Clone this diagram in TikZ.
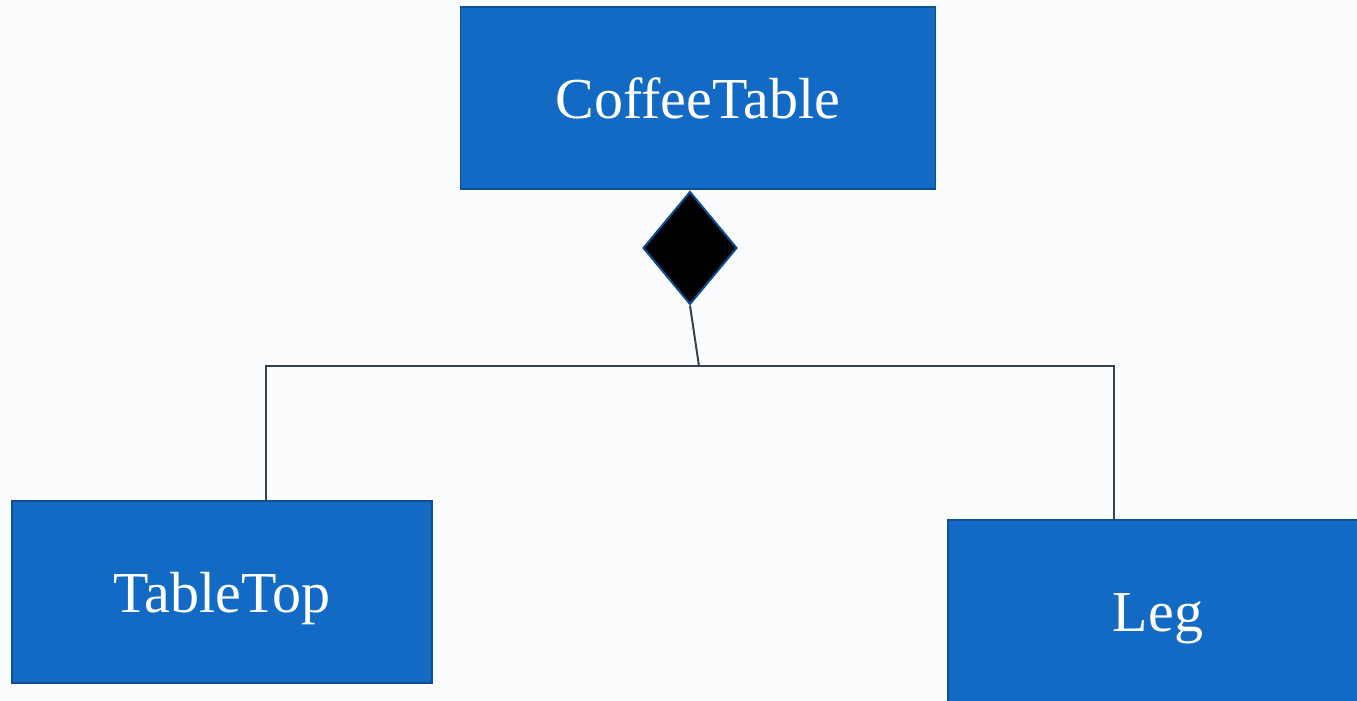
\documentclass[tikz,border=0pt]{standalone}
\usepackage{fontspec}
\setmainfont{Liberation Serif}
\usetikzlibrary{positioning,shapes.geometric}
\definecolor{colorclass}  {RGB}{18 ,106,196}
\definecolor{colorborder} {RGB}{14 ,80 ,150}
\definecolor{colorlink}   {RGB}{55 ,66 ,80 }
\definecolor{colorpaper}  {RGB}{251,252,254}

\begin{document}
\begin{tikzpicture}[
    x=1pt, y=-1pt,
    font={\fontsize{58}{68}\selectfont},
    classbox/.style={rectangle,fill=colorclass,draw=colorborder,line width=1.5pt,text=white,inner sep=0pt,minimum height=182pt},
    partbox/.style={classbox,minimum width=420pt,text height=52pt,text depth=12pt},
    composite/.style={diamond,fill=black,draw=colorborder,line width=2pt,inner sep=0pt,minimum width=94pt,minimum height=113pt},
    link/.style={draw=colorlink,line width=2pt},
]
    \fill[colorpaper] (0,0) rectangle (1357,701);
    \useasboundingbox (0,0) rectangle (1357,701);

    % Classes
    \node[classbox,minimum width=475pt] (coffee)   at (698,98)  {CoffeeTable};
    \node[partbox] (tabletop) at (222,592) {TableTop};
    \node[partbox] (leg)      at (1158,611) {Leg};

    % Composition
    \node[composite] (whole) at (690,248) {};
    \coordinate (bus) at (699,366);

    % Links
    \draw[link] (whole.south) -- (bus);
    \draw[link] ([xshift=44pt]tabletop.north) |- (bus);
    \draw[link] (bus) -| ([xshift=-44pt]leg.north);

\end{tikzpicture}
\end{document}
